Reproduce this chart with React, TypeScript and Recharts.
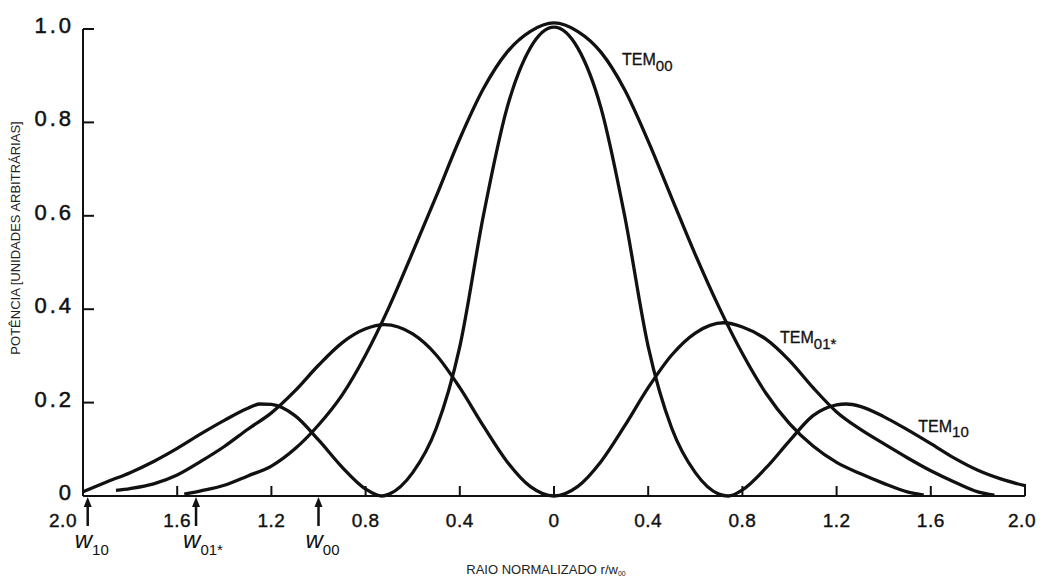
import {
  ComposedChart,
  Line,
  XAxis,
  YAxis,
  ReferenceLine,
  ReferenceDot,
} from "recharts";

// raio normalizado (r/w00) e potência
const TEM00_R = [-1.57, -1.5, -1.4, -1.3, -1.2, -1.1, -1.0, -0.9, -0.8, -0.7, -0.6, -0.5, -0.4, -0.3, -0.2, -0.1, 0, 0.1, 0.2, 0.3, 0.4, 0.5, 0.6, 0.7, 0.8, 0.9, 1.0, 1.1, 1.2, 1.3, 1.4, 1.5, 1.57];
const TEM00_P = [0.004, 0.011, 0.023, 0.043, 0.064, 0.101, 0.152, 0.216, 0.302, 0.405, 0.522, 0.642, 0.765, 0.872, 0.95, 0.995, 1.013, 0.995, 0.95, 0.87, 0.76, 0.638, 0.517, 0.405, 0.305, 0.22, 0.155, 0.107, 0.072, 0.048, 0.027, 0.009, 0.002];

const TEM01_R = [-1.86, -1.8, -1.7, -1.6, -1.5, -1.4, -1.3, -1.2, -1.1, -1.0, -0.9, -0.8, -0.72, -0.6, -0.5, -0.4, -0.3, -0.2, -0.1, 0, 0.1, 0.2, 0.3, 0.4, 0.5, 0.6, 0.72, 0.8, 0.9, 1.0, 1.1, 1.2, 1.3, 1.4, 1.5, 1.6, 1.7, 1.8, 1.87];
const TEM01_P = [0.012, 0.016, 0.026, 0.045, 0.074, 0.106, 0.143, 0.178, 0.225, 0.28, 0.328, 0.358, 0.367, 0.347, 0.302, 0.232, 0.15, 0.074, 0.02, 0, 0.02, 0.074, 0.15, 0.232, 0.302, 0.349, 0.371, 0.362, 0.336, 0.29, 0.232, 0.18, 0.143, 0.112, 0.082, 0.054, 0.03, 0.009, 0.002];

const TEM10_R = [-2.0, -1.9, -1.8, -1.7, -1.6, -1.5, -1.4, -1.3, -1.25, -1.2, -1.1, -1.0, -0.9, -0.8, -0.73, -0.7, -0.6, -0.5, -0.4, -0.3, -0.2, -0.1, 0, 0.1, 0.2, 0.3, 0.4, 0.5, 0.6, 0.7, 0.74, 0.8, 0.9, 1.0, 1.1, 1.2, 1.24, 1.3, 1.4, 1.5, 1.6, 1.7, 1.8, 1.9, 2.0];
const TEM10_P = [0.009, 0.03, 0.05, 0.074, 0.102, 0.133, 0.162, 0.188, 0.197, 0.196, 0.172, 0.12, 0.062, 0.015, 0, 0.004, 0.05, 0.145, 0.32, 0.6, 0.83, 0.96, 1.004, 0.96, 0.83, 0.6, 0.32, 0.145, 0.05, 0.004, 0, 0.013, 0.06, 0.118, 0.172, 0.195, 0.197, 0.192, 0.17, 0.142, 0.112, 0.081, 0.055, 0.036, 0.022];

const R_TICKS = [-2, -1.6, -1.2, -0.8, -0.4, 0, 0.4, 0.8, 1.2, 1.6, 2];
const R_TICK_LABELS = ["2.0", "1.6", "1.2", "0.8", "0.4", "0", "0.4", "0.8", "1.2", "1.6", "2.0"];
const P_TICKS = [0, 0.2, 0.4, 0.6, 0.8, 1.0];
const P_TICK_LABELS = ["0", "0.2", "0.4", "0.6", "0.8", "1.0"];

// raios de referência marcados com setas sob o eixo
const W_MARKS = [-1.98, -1.52, -1.0];
const W_SUBS = ["10", "01*", "00"];

const FONT = "'Liberation Sans', Arial, Helvetica, sans-serif";
const INK = "#111";

function pares(r: number[], p: number[]) {
  return r.map((x, i) => ({ x, y: p[i] }));
}

const SERIES = [
  { nome: "TEM00", data: pares(TEM00_R, TEM00_P) },
  { nome: "TEM01*", data: pares(TEM01_R, TEM01_P) },
  { nome: "TEM10", data: pares(TEM10_R, TEM10_P) },
];

// onde cada rótulo de modo fica, em coordenadas do gráfico
const ROTULOS = [
  { sub: "00", x: 0.289, y: 0.923, dy: 6 },
  { sub: "01*", x: 0.96, y: 0.327, dy: 6 },
  { sub: "10", x: 1.547, y: 0.138, dy: 5 },
];

function XTick({ x, y, payload }: any) {
  const v = payload.value;
  const i = R_TICKS.indexOf(v);
  const dx = v === -2 ? -20 : v === 2 ? -3 : 0;
  return (
    <g>
      {v !== -2 && (
        <line x1={x} y1={y} x2={x} y2={y - (v === 2 ? 12 : 10)} stroke={INK} strokeWidth={2} />
      )}
      <text
        x={x + dx}
        y={y + 31}
        textAnchor="middle"
        fontSize={19}
        letterSpacing={0.5}
        fontFamily={FONT}
        fill={INK}
        stroke={INK}
        strokeWidth={0.4}
      >
        {R_TICK_LABELS[i]}
      </text>
    </g>
  );
}

function YTick({ x, y, payload }: any) {
  const i = P_TICKS.indexOf(payload.value);
  return (
    <g>
      {payload.value > 0 && (
        <line x1={x} y1={y} x2={x + 11} y2={y} stroke={INK} strokeWidth={2} />
      )}
      <text
        x={x - 9}
        y={y + 4}
        textAnchor="end"
        fontSize={22}
        letterSpacing={3}
        fontFamily={FONT}
        fill={INK}
        stroke={INK}
        strokeWidth={0.5}
      >
        {P_TICK_LABELS[i]}
      </text>
    </g>
  );
}

function Seta({ cx, cy, sub }: { cx: number; cy: number; sub: string }) {
  return (
    <g>
      <polygon points={`${cx},${cy + 1} ${cx - 4},${cy + 11} ${cx + 4},${cy + 11}`} fill={INK} />
      <line x1={cx} y1={cy + 10} x2={cx} y2={cy + 30} stroke={INK} strokeWidth={2.5} />
      <text x={cx - 13} y={cy + 52} fontSize={24} fontStyle="italic" fontFamily={FONT} fill={INK}>
        w
        <tspan dy={7} fontSize={15} fontStyle="normal">
          {sub}
        </tspan>
      </text>
    </g>
  );
}

function RotuloModo({ cx, cy, sub, dy }: { cx: number; cy: number; sub: string; dy: number }) {
  return (
    <text x={cx} y={cy} fontSize={16} fontFamily={FONT} fill={INK} stroke={INK} strokeWidth={0.3}>
      TEM
      <tspan dy={dy} fontSize={15}>
        {sub}
      </tspan>
    </text>
  );
}

function TituloX({ viewBox }: any) {
  const cx = viewBox.x + viewBox.width / 2 - 8;
  return (
    <text x={cx} y={viewBox.y + 78} textAnchor="middle" fontSize={13} fontFamily={FONT} fill="#222">
      RAIO NORMALIZADO r/w
      <tspan dy={2} fontSize={7}>
        00
      </tspan>
    </text>
  );
}

function TituloY() {
  return (
    <text
      x={12}
      y={230}
      transform="rotate(-90 12 230)"
      textAnchor="middle"
      fontSize={13}
      fontFamily={FONT}
      fill="#222"
    >
      POTÊNCIA [UNIDADES ARBITRÁRIAS]
    </text>
  );
}

export default function App() {
  return (
    <div style={{ width: 1030, height: 573, background: "#fff", fontFamily: FONT }}>
      <ComposedChart
        width={1030}
        height={573}
        margin={{ top: 11.66, right: 13, bottom: 0, left: 0 }}
      >
        <XAxis
          type="number"
          dataKey="x"
          domain={[-2, 2]}
          ticks={R_TICKS}
          interval={0}
          height={85}
          tickSize={0}
          tickMargin={0}
          tickLine={false}
          axisLine={{ stroke: INK, strokeWidth: 2 }}
          tick={<XTick />}
          label={<TituloX />}
        />
        <YAxis
          type="number"
          domain={[0, 1.02]}
          ticks={P_TICKS}
          interval={0}
          width={75}
          tickSize={0}
          tickMargin={0}
          tickLine={false}
          axisLine={false}
          tick={<YTick />}
          label={<TituloY />}
        />
        <ReferenceLine
          segment={[
            { x: -2, y: 0 },
            { x: -2, y: 1 },
          ]}
          stroke={INK}
          strokeWidth={2}
        />
        {SERIES.map((s) => (
          <Line
            key={s.nome}
            data={s.data}
            dataKey="y"
            type="monotone"
            stroke={INK}
            strokeWidth={3.3}
            dot={false}
            activeDot={false}
            isAnimationActive={false}
          />
        ))}
        {W_MARKS.map((r, i) => (
          <ReferenceDot
            key={"w" + i}
            x={r}
            y={0}
            r={0}
            shape={(p: any) => <Seta cx={p.cx} cy={p.cy} sub={W_SUBS[i]} />}
          />
        ))}
        {ROTULOS.map((l) => (
          <ReferenceDot
            key={"t" + l.sub}
            x={l.x}
            y={l.y}
            r={0}
            shape={(p: any) => <RotuloModo cx={p.cx} cy={p.cy} sub={l.sub} dy={l.dy} />}
          />
        ))}
      </ComposedChart>
    </div>
  );
}
